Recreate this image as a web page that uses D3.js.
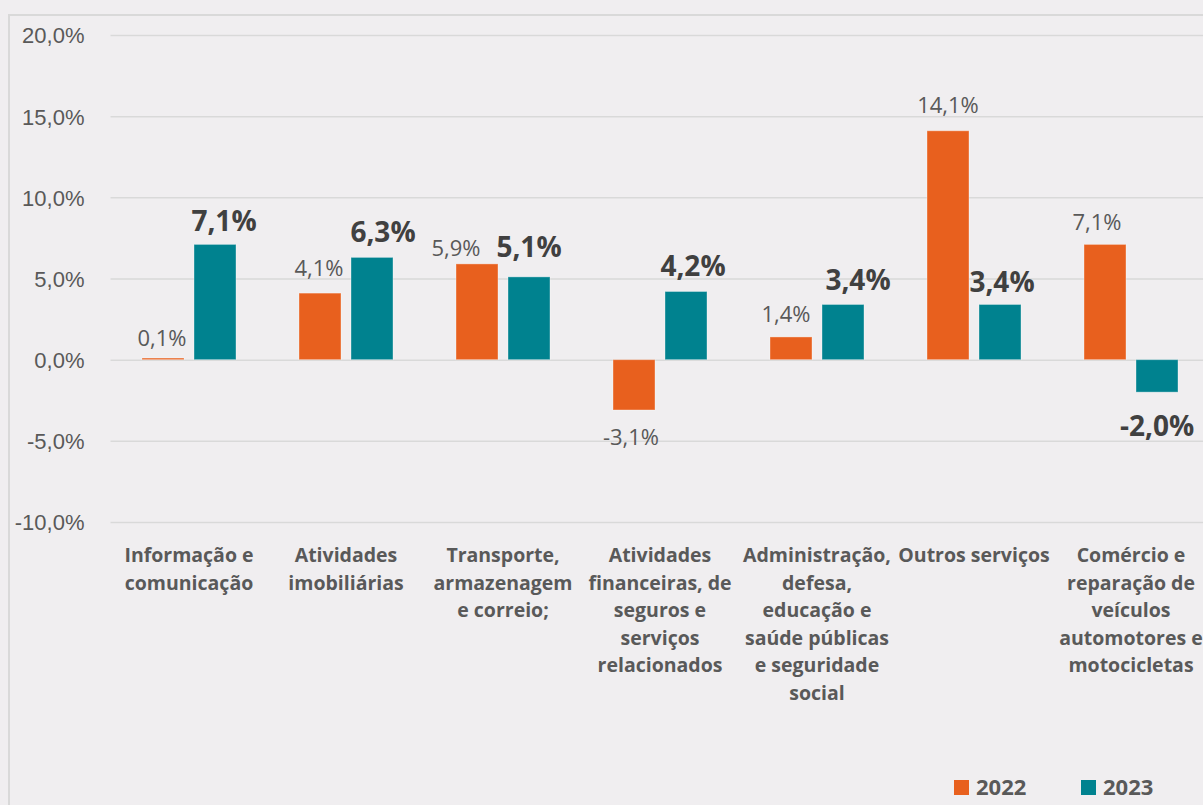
<!DOCTYPE html>
<html>
<head>
<meta charset="utf-8">
<script src="https://cdn.jsdelivr.net/npm/d3@7"></script>
<style>
  html, body { margin: 0; padding: 0; background: #f0eef0; }
  svg { display: block; font-family: "Open Sans", "Noto Sans", sans-serif; }
  .grid line { stroke: #d9d9d9; stroke-width: 1.5; }
  .grid text { fill: #595959; font-size: 22px; }
</style>
</head>
<body>
<svg id="chart" width="1203" height="805"></svg>
<script>
// categories, each line break as in the source
const categories = [
  "Informação e\ncomunicação",
  "Atividades\nimobiliárias",
  "Transporte,\narmazenagem\ne correio;",
  "Atividades\nfinanceiras, de\nseguros e\nserviços\nrelacionados",
  "Administração,\ndefesa,\neducação e\nsaúde públicas\ne seguridade\nsocial",
  "Outros serviços",
  "Comércio e\nreparação de\nveículos\nautomotores e\nmotocicletas",
];
const years = ["2022", "2023"];
const values2022 = [0.1, 4.1, 5.9, -3.1, 1.4, 14.1, 7.1];
const values2023 = [7.1, 6.3, 5.1, 4.2, 3.4, 3.4, -2.0];
const yTicks = [-10, -5, 0, 5, 10, 15, 20];

const colors = { "2022": "#e8601e", "2023": "#00828f" };

// label nudges, like the hand-moved labels in the original [dx, gap]
const nudge = {
  "2022": [[-1, 12], [-1, 17], [-21, 8], [-3, 35], [-5, 15], [0, 18], [-8, 14]],
  "2023": [[9, 13], [11, 15], [0, 20], [7, 15], [15, 14], [2, 12], [0, 44]],
};

const svg = d3.select("#chart");

// background + border (frame runs off the right/bottom edge)
svg.append("rect").attr("width", 1203).attr("height", 805).attr("fill", "#f0eef0");
svg.append("rect")
  .attr("x", 9).attr("y", 15).attr("width", 1300).attr("height", 900)
  .attr("fill", "none").attr("stroke", "#d9d9d9").attr("stroke-width", 2);

const left = 110.5;
const x0 = d3.scaleBand().domain(categories).range([left, left + 157 * 7]);
const x1 = d3.scaleBand().domain(years).range([31.5, 125.5]).paddingInner(10 / 52);
const y = d3.scaleLinear().domain([-10, 20]).range([522, 35]);

const loc = d3.formatLocale({ decimal: ",", thousands: ".", grouping: [3], currency: ["R$", ""], minus: "-" });
const fmt = (v) => loc.format(".1f")(v) + "%";

// gridlines + y labels
const yAxis = d3.axisLeft(y)
  .tickValues(yTicks)
  .tickSize(-(157 * 7))
  .tickPadding(26)
  .tickFormat(fmt);

svg.append("g")
  .attr("class", "grid")
  .attr("transform", `translate(${left},0)`)
  .call(yAxis)
  .call((g) => g.select(".domain").remove())
  .call((g) => g.selectAll("text").attr("dy", "0.36em").style("font-family", null));

// bars
const rows = categories.map((c, i) => ({
  cat: c,
  i,
  vals: [
    { year: "2022", v: values2022[i] },
    { year: "2023", v: values2023[i] },
  ],
}));

const groups = svg.append("g").selectAll("g")
  .data(rows)
  .join("g")
  .attr("transform", (d) => `translate(${x0(d.cat)},0)`);

groups.selectAll("rect")
  .data((d) => d.vals)
  .join("rect")
  .attr("x", (d) => x1(d.year))
  .attr("width", x1.bandwidth())
  .attr("y", (d) => y(Math.max(0, d.v)))
  .attr("height", (d) => Math.abs(y(d.v) - y(0)))
  .attr("fill", (d) => colors[d.year])
  .attr("stroke", "rgba(255,255,255,0.35)")
  .attr("stroke-width", 1);

// value labels
groups.selectAll("text.val")
  .data((d) => d.vals.map((e) => ({ ...e, i: d.i })))
  .join("text")
  .attr("class", "val")
  .attr("text-anchor", "middle")
  .attr("x", (d) => x1(d.year) + x1.bandwidth() / 2 + nudge[d.year][d.i][0])
  .attr("y", (d) => {
    const gap = nudge[d.year][d.i][1];
    return d.v >= 0 ? y(d.v) - gap : y(d.v) + gap;
  })
  .attr("fill", (d) => (d.year === "2023" ? "#404040" : "#595959"))
  .attr("font-size", (d) => (d.year === "2023" ? 28 : 22))
  .attr("font-weight", (d) => (d.year === "2023" ? 700 : 400))
  .text((d) => fmt(d.v));

// category labels
const catText = svg.append("g").selectAll("text")
  .data(categories)
  .join("text")
  .attr("text-anchor", "middle")
  .attr("x", (d) => x0(d) + x0.bandwidth() / 2)
  .attr("y", 562)
  .attr("fill", "#595959")
  .attr("font-size", 19.5)
  .attr("font-weight", 700);

catText.selectAll("tspan")
  .data((d) => d.split("\n"))
  .join("tspan")
  .attr("x", function () { return this.parentNode.getAttribute("x"); })
  .attr("dy", (d, i) => (i === 0 ? 0 : 27.6))
  .text((d) => d);

// legend
const legend = svg.append("g").selectAll("g")
  .data(years)
  .join("g")
  .attr("transform", (d, i) => `translate(${954 + i * 127},780)`);

legend.append("rect")
  .attr("width", 15).attr("height", 15)
  .attr("fill", (d) => colors[d]);

legend.append("text")
  .attr("x", 22).attr("y", 14.5)
  .attr("fill", "#595959")
  .attr("font-size", 22)
  .attr("font-weight", 700)
  .text((d) => d);
</script>
</body>
</html>
